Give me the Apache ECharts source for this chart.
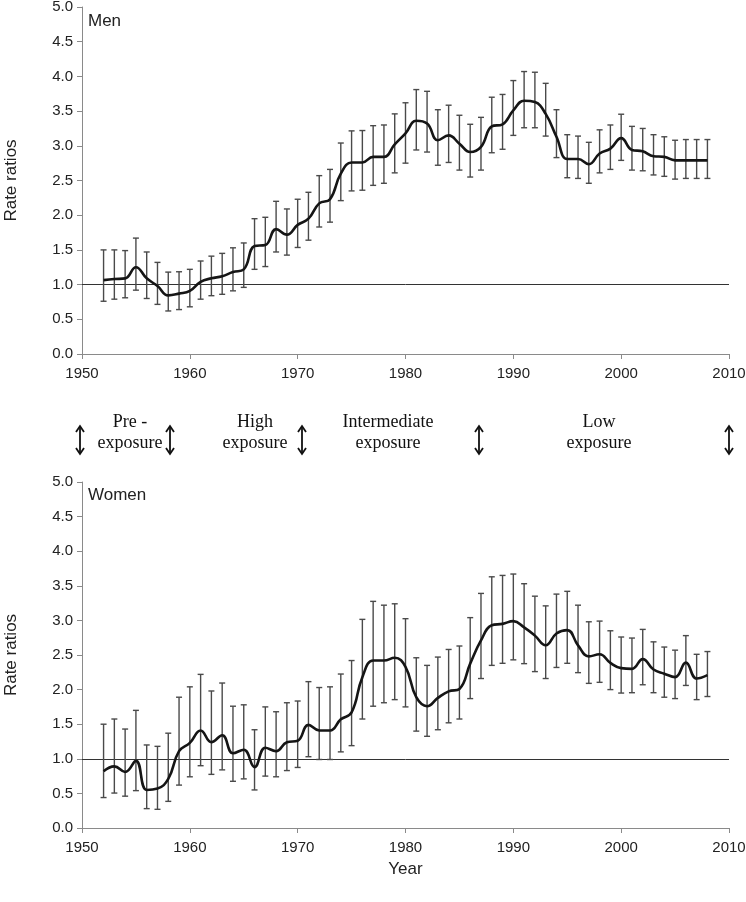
<!DOCTYPE html>
<html>
<head>
<meta charset="utf-8">
<script src="https://cdn.jsdelivr.net/npm/echarts@6/dist/echarts.min.js"></script>
<style>html,body{margin:0;padding:0;background:#fff;}#c{width:746px;height:902px;}</style>
</head>
<body>
<div id="c"></div>
<script>
const years = [1952,1953,1954,1955,1956,1957,1958,1959,1960,1961,
  1962,1963,1964,1965,1966,1967,1968,1969,1970,1971,
  1972,1973,1974,1975,1976,1977,1978,1979,1980,1981,
  1982,1983,1984,1985,1986,1987,1988,1989,1990,1991,
  1992,1993,1994,1995,1996,1997,1998,1999,2000,2001,
  2002,2003,2004,2005,2006,2007,2008];

const menRate = [1.065,1.08,1.09,1.25,1.09,0.98,0.845,0.87,0.91,1.04,
  1.09,1.12,1.18,1.22,1.555,1.57,1.80,1.72,1.86,1.95,
  2.17,2.23,2.60,2.76,2.76,2.84,2.84,3.02,3.18,3.36,
  3.32,3.08,3.15,3.03,2.91,2.985,3.28,3.31,3.51,3.65,
  3.63,3.46,3.13,2.81,2.81,2.735,2.89,2.96,3.11,2.94,
  2.92,2.85,2.84,2.79,2.79,2.79,2.79];
const menUpper = [1.50,1.50,1.49,1.67,1.47,1.32,1.18,1.185,1.22,1.34,
  1.41,1.45,1.53,1.60,1.95,1.97,2.20,2.09,2.23,2.33,
  2.57,2.66,3.04,3.215,3.22,3.29,3.30,3.46,3.62,3.81,
  3.785,3.52,3.585,3.44,3.31,3.41,3.70,3.74,3.94,4.07,
  4.06,3.90,3.52,3.16,3.14,3.05,3.23,3.30,3.455,3.28,
  3.25,3.16,3.13,3.08,3.09,3.09,3.09];
const menLower = [0.76,0.79,0.81,0.92,0.80,0.715,0.62,0.64,0.68,0.79,
  0.84,0.86,0.91,0.96,1.22,1.26,1.47,1.425,1.535,1.64,
  1.83,1.90,2.21,2.35,2.36,2.43,2.46,2.61,2.75,2.94,
  2.91,2.72,2.76,2.65,2.55,2.65,2.90,2.95,3.15,3.26,
  3.26,3.14,2.83,2.54,2.53,2.46,2.61,2.66,2.79,2.65,
  2.64,2.58,2.56,2.52,2.53,2.53,2.53];

const womenRate = [0.82,0.89,0.81,0.97,0.55,0.57,0.71,1.11,1.23,1.41,
  1.24,1.34,1.08,1.13,0.88,1.16,1.11,1.24,1.26,1.49,
  1.41,1.41,1.57,1.67,2.18,2.42,2.42,2.46,2.33,1.89,
  1.76,1.88,1.975,2.01,2.375,2.71,2.93,2.95,2.99,2.90,
  2.78,2.64,2.81,2.86,2.64,2.48,2.51,2.385,2.31,2.30,
  2.44,2.29,2.23,2.18,2.39,2.16,2.21];
const womenUpper = [1.50,1.575,1.43,1.70,1.20,1.18,1.37,1.89,2.04,2.22,
  1.98,2.095,1.76,1.78,1.42,1.75,1.68,1.81,1.835,2.115,
  2.03,2.04,2.225,2.42,3.015,3.275,3.22,3.24,3.025,2.46,
  2.35,2.47,2.58,2.63,3.04,3.39,3.63,3.65,3.67,3.53,
  3.35,3.21,3.38,3.42,3.22,2.98,2.99,2.85,2.76,2.745,
  2.87,2.69,2.615,2.57,2.78,2.51,2.55];
const womenLower = [0.44,0.505,0.46,0.54,0.28,0.27,0.385,0.62,0.74,0.90,
  0.775,0.84,0.675,0.71,0.55,0.75,0.74,0.83,0.875,1.03,
  0.99,0.99,1.10,1.19,1.575,1.76,1.81,1.855,1.75,1.40,
  1.325,1.42,1.52,1.575,1.87,2.16,2.35,2.38,2.43,2.375,
  2.26,2.16,2.32,2.38,2.245,2.09,2.105,2.00,1.95,1.955,
  2.07,1.955,1.89,1.87,2.06,1.855,1.90];

const xTicks = [1950, 1960, 1970, 1980, 1990, 2000, 2010];
const referenceValue = 1.0;
const panelNames = ['Men', 'Women'];
const periods = [
  {lines: ['Pre -', 'exposure'], x: 130},
  {lines: ['High', 'exposure'], x: 255},
  {lines: ['Intermediate', 'exposure'], x: 388},
  {lines: ['Low', 'exposure'], x: 599}
];
const arrowX = [80, 170, 302, 479, 729];

const SANS = '"Liberation Sans", Arial, sans-serif';
const SERIF = '"Liberation Serif", "Times New Roman", serif';

function xAxisCfg(gi, withName) {
  return {
    gridIndex: gi, type: 'value', min: xTicks[0], max: xTicks[xTicks.length-1], interval: 10,
    axisLine: {show: true, lineStyle: {color: '#8a8a8a', width: 1}},
    axisTick: {show: true, length: 5, lineStyle: {color: '#8a8a8a'}},
    axisLabel: {fontFamily: SANS, fontSize: 15, color: '#222', margin: 12,
      formatter: v => String(v)},
    splitLine: {show: false},
    name: withName ? 'Year' : '', nameLocation: 'middle', nameGap: 33,
    nameTextStyle: {fontFamily: SANS, fontSize: 17, color: '#222'}
  };
}
function yAxisCfg(gi) {
  return {
    gridIndex: gi, type: 'value', min: 0, max: 5, interval: 0.5,
    axisLine: {show: true, lineStyle: {color: '#8a8a8a', width: 1}},
    axisTick: {show: true, length: 5, lineStyle: {color: '#8a8a8a'}},
    axisLabel: {fontFamily: SANS, fontSize: 15, color: '#222', margin: 9,
      formatter: v => v.toFixed(1)},
    splitLine: {show: false},
    name: 'Rate ratios', nameLocation: 'middle', nameGap: 62,
    nameTextStyle: {fontFamily: SANS, fontSize: 17, color: '#222'}
  };
}

function errSeries(gi, lower, upper) {
  return {
    type: 'custom', xAxisIndex: gi, yAxisIndex: gi, z: 2,
    data: years.map((y, i) => [y, lower[i], upper[i]]),
    encode: {x: 0, y: [1, 2]},
    renderItem: function (params, api) {
      const x = api.value(0);
      const lo = api.coord([x, api.value(1)]);
      const hi = api.coord([x, api.value(2)]);
      const hw = 3;
      const st = {stroke: '#4a4a4a', lineWidth: 1.4};
      return {type: 'group', children: [
        {type: 'line', shape: {x1: lo[0], y1: lo[1], x2: hi[0], y2: hi[1]}, style: st},
        {type: 'line', shape: {x1: hi[0]-hw, y1: hi[1], x2: hi[0]+hw, y2: hi[1]}, style: st},
        {type: 'line', shape: {x1: lo[0]-hw, y1: lo[1], x2: lo[0]+hw, y2: lo[1]}, style: st}
      ]};
    }
  };
}
function lineSeries(gi, vals) {
  return {
    type: 'line', xAxisIndex: gi, yAxisIndex: gi, z: 3,
    data: years.map((y, i) => [y, vals[i]]),
    smooth: 0.45, showSymbol: false, symbol: 'none',
    lineStyle: {color: '#151515', width: 2.6},
    markLine: {
      silent: true, symbol: ['none', 'none'], label: {show: false},
      lineStyle: {color: '#333', width: 1, type: 'solid'},
      data: [{yAxis: referenceValue}], z: 1
    }
  };
}

const graphics = [];
graphics.push({type: 'text', left: 88, top: 13, style: {text: panelNames[0], font: '17px ' + SANS, fill: '#222'}});
graphics.push({type: 'text', left: 88, top: 487, style: {text: panelNames[1], font: '17px ' + SANS, fill: '#222'}});
periods.forEach(p => {
  p.lines.forEach((t, k) => {
    graphics.push({type: 'text', x: p.x, y: 422 + k * 21,
      style: {text: t, font: '18px ' + SERIF, fill: '#111', textAlign: 'center', textVerticalAlign: 'middle'}});
  });
});
arrowX.forEach(ax => {
  const y1 = 426, y2 = 454, hw = 4, hh = 6;
  const st = {stroke: '#111', lineWidth: 1.8, fill: null};
  graphics.push({type: 'group', children: [
    {type: 'line', shape: {x1: ax, y1: y1, x2: ax, y2: y2}, style: st},
    {type: 'polyline', shape: {points: [[ax-hw, y1+hh], [ax, y1], [ax+hw, y1+hh]]}, style: st},
    {type: 'polyline', shape: {points: [[ax-hw, y2-hh], [ax, y2], [ax+hw, y2-hh]]}, style: st}
  ]});
});

const chart = echarts.init(document.getElementById('c'), null, {renderer: 'canvas'});
chart.setOption({
  backgroundColor: '#fff',
  animation: false,
  grid: [
    {left: 82, top: 7, width: 647, height: 347, outerBoundsMode: 'none', containLabel: false},
    {left: 82, top: 482, width: 647, height: 346, outerBoundsMode: 'none', containLabel: false}
  ],
  xAxis: [xAxisCfg(0, false), xAxisCfg(1, true)],
  yAxis: [yAxisCfg(0), yAxisCfg(1)],
  series: [
    errSeries(0, menLower, menUpper),
    lineSeries(0, menRate),
    errSeries(1, womenLower, womenUpper),
    lineSeries(1, womenRate)
  ],
  graphic: graphics
});
</script>
</body>
</html>
